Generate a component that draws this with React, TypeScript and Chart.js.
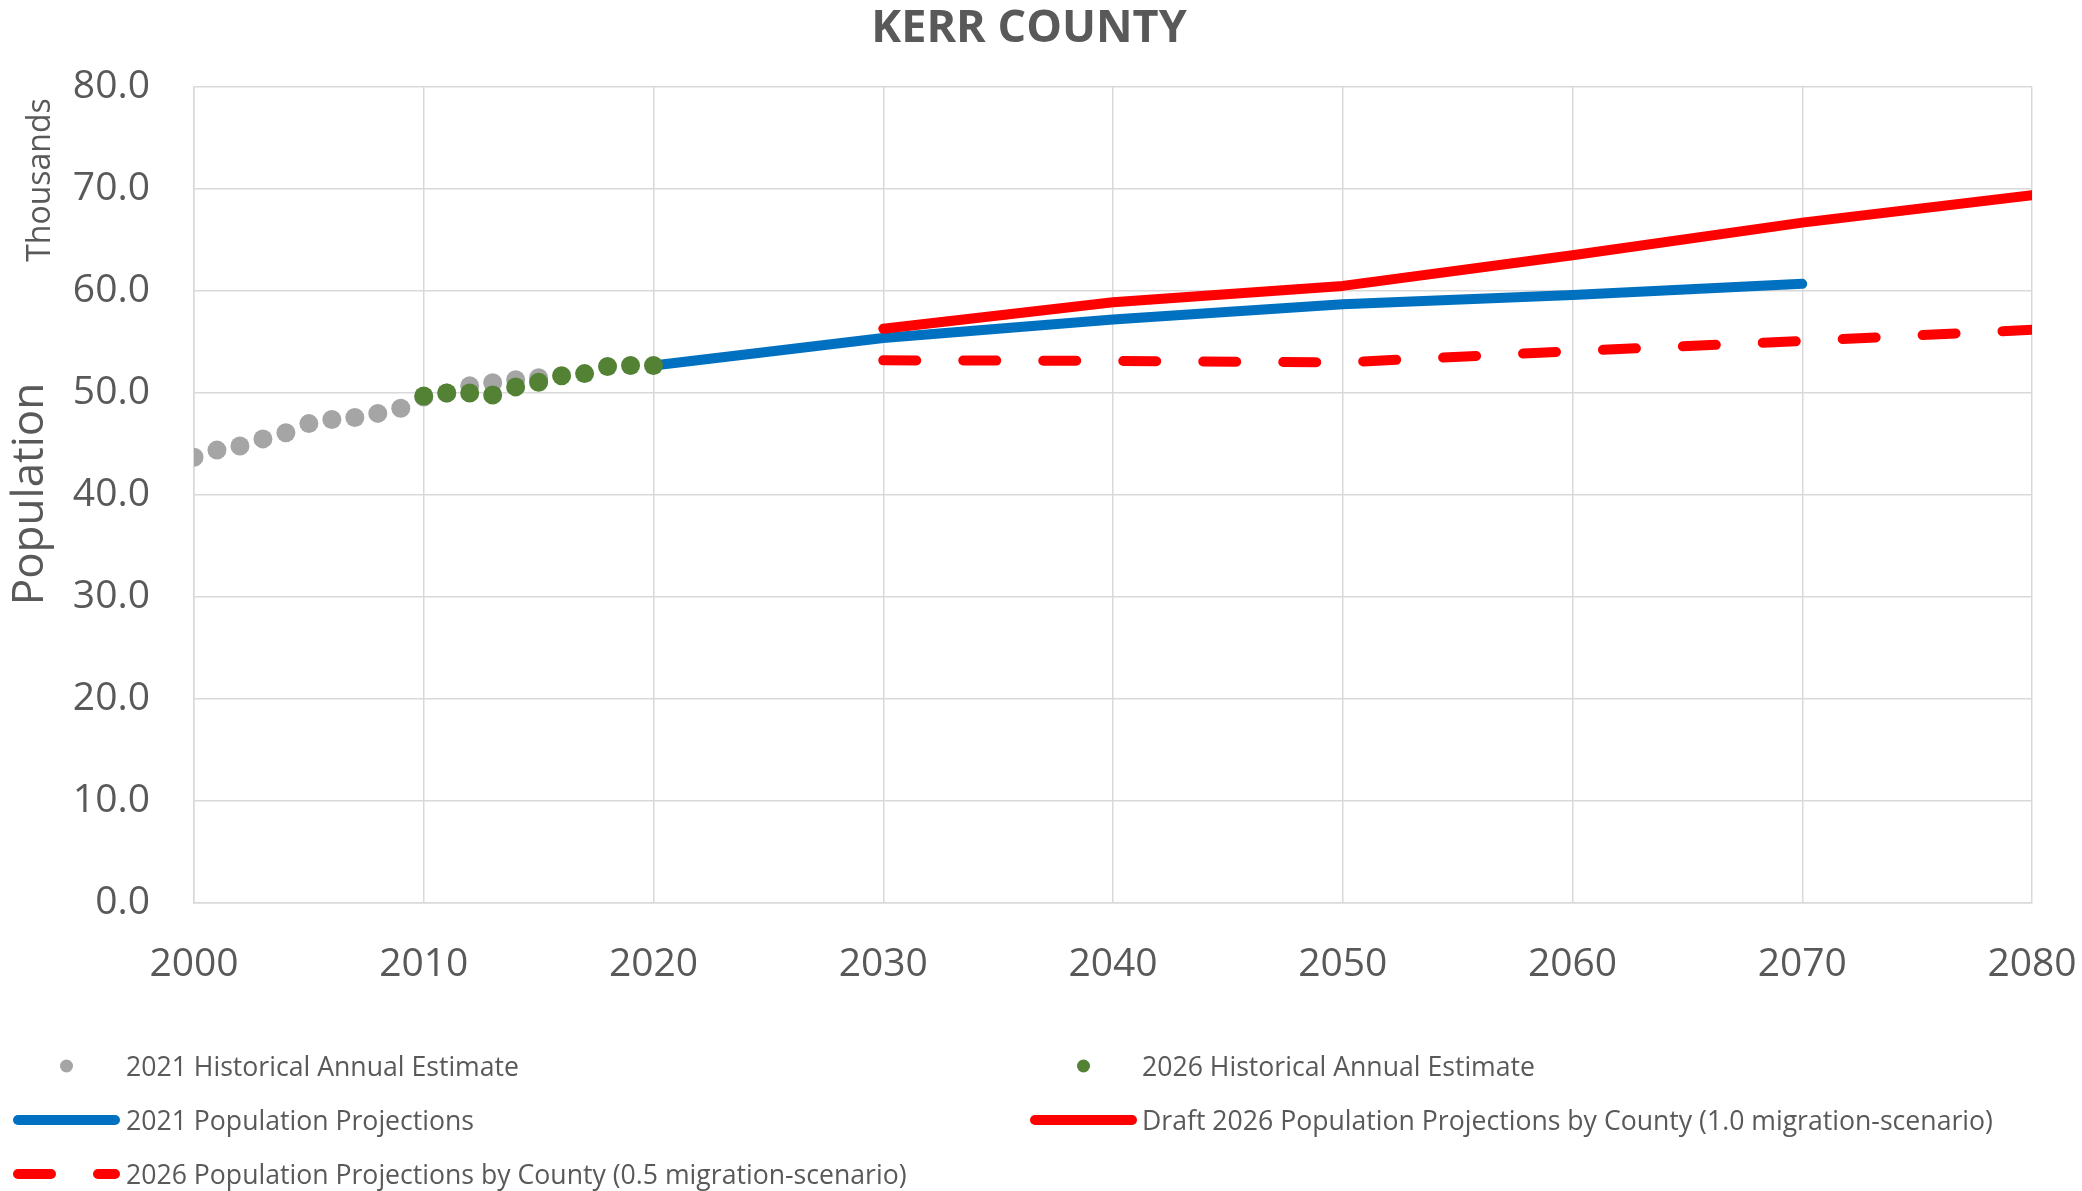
import React, { useEffect, useRef } from 'react';
import { Chart, registerables } from 'chart.js';

Chart.register(...registerables);

// ---------- Data ----------
const TITLE = 'KERR COUNTY';
const Y_TITLE = 'Population';
const Y_UNIT = 'Thousands';

const hist2021Years = [2000, 2001, 2002, 2003, 2004, 2005, 2006, 2007, 2008, 2009, 2010, 2011, 2012, 2013, 2014, 2015];
const hist2021Values = [43.7, 44.4, 44.8, 45.5, 46.1, 47.0, 47.4, 47.6, 48.0, 48.5, 49.6, 50.0, 50.7, 51.0, 51.3, 51.5];

const hist2026Years = [2010, 2011, 2012, 2013, 2014, 2015, 2016, 2017, 2018, 2019, 2020];
const hist2026Values = [49.7, 50.0, 50.0, 49.8, 50.6, 51.05, 51.7, 51.9, 52.6, 52.7, 52.7];

const proj2021Years = [2020, 2030, 2040, 2050, 2060, 2070];
const proj2021Values = [52.7, 55.4, 57.2, 58.7, 59.6, 60.7];

const proj2026Years = [2030, 2040, 2050, 2060, 2070, 2080];
const proj2026HighValues = [56.3, 58.9, 60.5, 63.5, 66.7, 69.4];
const proj2026LowValues = [53.2, 53.15, 53.0, 54.1, 55.1, 56.2];

const X_MIN = 2000;
const X_MAX = 2080;
const X_STEP = 10;
const Y_MIN = 0;
const Y_MAX = 80;
const Y_STEP = 10;

const LABELS = [
  '2026 Historical Annual Estimate',
  '2021 Historical Annual Estimate',
  'Draft 2026 Population Projections by County (1.0 migration-scenario)',
  '2021 Population Projections',
  '2026 Population Projections by County (0.5 migration-scenario)',
];

// ---------- Styles ----------
const TEXT = '#595959';
const GRID = '#D9D9D9';
const GRAY = '#A5A5A5';
const GREEN = '#548235';
const BLUE = '#0070C0';
const RED = '#FF0000';
const LINE_W = 10;
const DASH = [33, 47];

const zip = (xs: number[], ys: number[]) => xs.map((x, i) => ({ x, y: ys[i] }));

// legend layout: [datasetIndex, column, row]
const LEGEND_ORDER: [number, number, number][] = [
  [1, 0, 0],
  [0, 1, 0],
  [3, 0, 1],
  [2, 1, 1],
  [4, 0, 2],
];

const overlayPlugin = {
  id: 'overlay',
  afterDraw(chart: any) {
    const ctx: CanvasRenderingContext2D = chart.ctx;
    ctx.save();
    ctx.fillStyle = TEXT;

    // Title
    ctx.font = 'bold 45px "Open Sans"';
    ctx.textAlign = 'center';
    ctx.textBaseline = 'alphabetic';
    ctx.fillText(TITLE, 1029, 42);

    // Axis title "Population"
    ctx.save();
    ctx.translate(43, 494);
    ctx.rotate(-Math.PI / 2);
    ctx.font = '44px "Open Sans"';
    ctx.textAlign = 'center';
    ctx.fillText(Y_TITLE, 0, 0);
    ctx.restore();

    // Display units "Thousands"
    ctx.save();
    ctx.translate(50, 180);
    ctx.rotate(-Math.PI / 2);
    ctx.font = '32px "Open Sans"';
    ctx.textAlign = 'center';
    ctx.fillText(Y_UNIT, 0, 0);
    ctx.restore();

    // Legend
    const colSym = [[13, 120], [1030, 1137]];
    const colText = [126, 1142];
    const rowY = [1066, 1120, 1174];
    ctx.font = '27px "Open Sans"';
    const squeeze = 393 / ctx.measureText(LABELS[1]).width;
    LEGEND_ORDER.forEach(([di, col, row]) => {
      const ds = chart.data.datasets[di];
      const y = rowY[row];
      const [x0, x1] = colSym[col];
      if (ds.showLine === false) {
        ctx.beginPath();
        ctx.fillStyle = ds.backgroundColor;
        ctx.arc((x0 + x1) / 2, y, 6.5, 0, Math.PI * 2);
        ctx.fill();
      } else {
        ctx.save();
        ctx.strokeStyle = ds.borderColor;
        ctx.lineWidth = 10;
        ctx.lineCap = 'round';
        ctx.setLineDash(ds.borderDash || []);
        ctx.beginPath();
        ctx.moveTo(x0 + 5, y);
        ctx.lineTo(x1 - 5, y);
        ctx.stroke();
        ctx.restore();
      }
      ctx.save();
      ctx.fillStyle = TEXT;
      ctx.textAlign = 'left';
      ctx.textBaseline = 'alphabetic';
      ctx.translate(colText[col], y + 10);
      ctx.scale(squeeze, 1);
      ctx.fillText(ds.label, 0, 0);
      ctx.restore();
    });

    ctx.restore();
  },
};

export default function App() {
  const ref = useRef<HTMLCanvasElement | null>(null);

  useEffect(() => {
    let chart: Chart | null = null;
    let cancelled = false;
    const fontsReady = (document as any).fonts
      ? Promise.all([
          (document as any).fonts.load('39px "Open Sans"'),
          (document as any).fonts.load('bold 45px "Open Sans"'),
        ]).catch(() => null)
      : Promise.resolve(null);

    fontsReady.then(() => {
      if (cancelled || !ref.current) return;
      chart = new Chart(ref.current, {
        type: 'scatter',
        data: {
          datasets: [
            {
              label: LABELS[0],
              data: zip(hist2026Years, hist2026Values),
              showLine: false,
              backgroundColor: GREEN,
              borderColor: GREEN,
              borderWidth: 0,
              pointRadius: 9.5,
              pointHoverRadius: 9.5,
            },
            {
              label: LABELS[1],
              data: zip(hist2021Years, hist2021Values),
              showLine: false,
              backgroundColor: GRAY,
              borderColor: GRAY,
              borderWidth: 0,
              pointRadius: 9.5,
              pointHoverRadius: 9.5,
            },
            {
              label: LABELS[2],
              data: zip(proj2026Years, proj2026HighValues),
              showLine: true,
              borderColor: RED,
              backgroundColor: RED,
              borderWidth: LINE_W,
              borderCapStyle: 'round',
              borderJoinStyle: 'round',
              pointRadius: 0,
              pointHoverRadius: 0,
              tension: 0,
            },
            {
              label: LABELS[3],
              data: zip(proj2021Years, proj2021Values),
              showLine: true,
              borderColor: BLUE,
              backgroundColor: BLUE,
              borderWidth: LINE_W,
              borderCapStyle: 'round',
              borderJoinStyle: 'round',
              pointRadius: 0,
              pointHoverRadius: 0,
              tension: 0,
            },
            {
              label: LABELS[4],
              data: zip(proj2026Years, proj2026LowValues),
              showLine: true,
              borderColor: RED,
              backgroundColor: RED,
              borderWidth: LINE_W,
              borderDash: DASH,
              borderCapStyle: 'round',
              borderJoinStyle: 'round',
              pointRadius: 0,
              pointHoverRadius: 0,
              tension: 0,
            },
          ],
        },
        options: {
          responsive: false,
          animation: false,
          devicePixelRatio: 1,
          layout: { padding: { top: 87, right: 50, bottom: 0, left: 0 } },
          plugins: {
            legend: { display: false },
            title: { display: false },
            tooltip: { enabled: false },
          },
          scales: {
            x: {
              type: 'linear',
              min: X_MIN,
              max: X_MAX,
              afterFit: (s: any) => {
                s.height = 288;
                s.paddingLeft = 0;
                s.paddingRight = 0;
              },
              ticks: {
                stepSize: X_STEP,
                color: TEXT,
                font: { family: '"Open Sans"', size: 39 },
                padding: 38,
                maxRotation: 0,
                callback: (v: any) => String(v),
              },
              grid: { color: GRID, lineWidth: 1.5, drawTicks: false },
              border: { color: GRID, width: 1.5 },
            },
            y: {
              type: 'linear',
              min: Y_MIN,
              max: Y_MAX,
              afterFit: (s: any) => {
                s.width = 194;
                s.paddingTop = 0;
                s.paddingBottom = 0;
              },
              ticks: {
                stepSize: Y_STEP,
                color: TEXT,
                font: { family: '"Open Sans"', size: 39 },
                padding: 44,
                callback: (v: any) => Number(v).toFixed(1),
              },
              grid: { color: GRID, lineWidth: 1.5, drawTicks: false },
              border: { color: GRID, width: 1.5 },
            },
          },
        },
        plugins: [overlayPlugin],
      } as any);
    });

    return () => {
      cancelled = true;
      if (chart) chart.destroy();
    };
  }, []);

  return (
    <div style={{ position: 'absolute', left: 0, top: 0, width: 2082, height: 1191, background: '#fff' }}>
      <canvas ref={ref} width={2082} height={1191} style={{ width: 2082, height: 1191, display: 'block' }} />
    </div>
  );
}
